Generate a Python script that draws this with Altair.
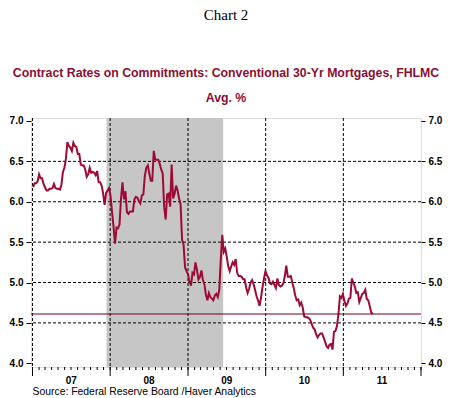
import altair as alt
import pandas as pd

# Weekly contract rates (% avg), first week 2007-01-04
rates_2007 = [6.18, 6.23, 6.23, 6.25, 6.34, 6.29, 6.29, 6.22, 6.18, 6.14, 6.14, 6.16, 6.16,
              6.17, 6.22, 6.17, 6.16, 6.16, 6.15, 6.21, 6.37, 6.42, 6.53, 6.74, 6.69, 6.67,
              6.63, 6.73, 6.69, 6.68, 6.59, 6.59, 6.46, 6.45, 6.45, 6.40, 6.31, 6.34, 6.42,
              6.36, 6.37, 6.36, 6.33, 6.38, 6.24, 6.24, 6.20, 6.10, 5.96, 6.11, 6.14, 6.17]
rates_2008 = [6.07, 5.87, 5.69, 5.48, 5.68, 5.67, 5.72, 6.04, 6.24, 6.03, 6.13, 5.87, 5.85,
              5.88, 5.88, 5.88, 6.03, 6.06, 6.05, 6.01, 5.98, 6.08, 6.09, 6.32, 6.42, 6.45,
              6.35, 6.26, 6.26, 6.63, 6.52, 6.52, 6.52, 6.47, 6.40, 6.35, 5.93, 5.78, 6.09,
              6.10, 5.94, 6.46, 6.04, 6.10, 6.20, 6.14, 6.04, 5.97, 5.53, 5.47, 5.19, 5.14, 5.10]
rates_2009 = [5.01, 4.96, 5.12, 5.10, 5.25, 5.16, 5.04, 5.07, 5.15, 5.03, 4.98, 4.85,
              4.78, 4.87, 4.82, 4.80, 4.78, 4.84, 4.86, 4.82, 4.91, 5.29, 5.59, 5.38, 5.42,
              5.32, 5.20, 5.14, 5.20, 5.25, 5.22, 5.29, 5.12, 5.08, 5.08, 5.07, 5.04, 5.04,
              4.94, 4.87, 4.92, 5.00, 5.03, 4.98, 4.91, 4.83, 4.78, 4.71, 4.81, 4.94, 5.05, 5.14]
rates_2010 = [5.09, 5.06, 4.99, 4.98, 5.01, 4.97, 4.93, 5.05, 4.97, 4.95, 4.96, 4.99,
              5.08, 5.21, 5.07, 5.07, 5.08, 5.00, 4.93, 4.84, 4.78, 4.79, 4.72, 4.75, 4.69,
              4.58, 4.57, 4.57, 4.56, 4.54, 4.49, 4.44, 4.42, 4.36, 4.32, 4.35, 4.37, 4.37,
              4.32, 4.27, 4.21, 4.19, 4.23, 4.24, 4.17, 4.39, 4.40, 4.46, 4.61, 4.83, 4.81, 4.86]
rates_2011 = [4.77, 4.71, 4.74, 4.80, 4.81, 5.05, 5.00, 4.95, 4.87, 4.88, 4.76, 4.81, 4.86,
              4.87, 4.91, 4.80, 4.78, 4.71, 4.63, 4.61]

rates = rates_2007 + rates_2008 + rates_2009 + rates_2010 + rates_2011
dates = pd.date_range("2007-01-04", periods=len(rates), freq="7D")

y_labels = [4.0, 4.5, 5.0, 5.5, 6.0, 6.5, 7.0]
grid_y = [4.5, 5.0, 5.5, 6.0, 6.5]
year_starts = ["2007-01-01", "2008-01-01", "2009-01-01", "2010-01-01", "2011-01-01", "2012-01-01"]
grid_x = year_starts[:-1]
year_mid = ["2007-07-02", "2008-07-02", "2009-07-02", "2010-07-02", "2011-07-02"]
year_text = ["07", "08", "09", "10", "11"]
recession_start = ["2007-12-15"]
recession_end = ["2009-06-15"]
months = [d.strftime("%Y-%m-%d") for d in pd.date_range("2007-01-01", "2012-01-01", freq="MS")]

W, H = 390, 249
RED = "#9E0A33"
TITLE_RED = "#8A0F33"
LABEL_FONT = "Liberation Sans"

df = pd.DataFrame({"date": dates, "rate": rates})
last = df.tail(1)

xs = alt.Scale(domain=[alt.DateTime(year=2006, month=12, date=25),
                       alt.DateTime(year=2012, month=1, date=1)], nice=False)
ys = alt.Scale(domain=[3.954, 7.037], nice=False, zero=False)

shade = alt.Chart(pd.DataFrame({"s": recession_start, "e": recession_end})).mark_rect(
    color="#C6C6C6").encode(
    x=alt.X("s:T", scale=xs), x2="e:T", y=alt.value(0), y2=alt.value(H))

hgrid = alt.Chart(pd.DataFrame({"v": grid_y})).mark_rule(
    color="black", strokeWidth=1, strokeDash=[3, 2]).encode(
    y=alt.Y("v:Q", scale=ys, axis=None))

vgrid = alt.Chart(pd.DataFrame({"d": grid_x})).mark_rule(
    color="black", strokeWidth=1, strokeDash=[3, 2]).encode(
    x=alt.X("d:T", scale=xs), y=alt.value(0), y2=alt.value(H))

line = alt.Chart(df).mark_line(color=RED, strokeWidth=2).encode(
    x=alt.X("date:T", scale=xs, axis=alt.Axis(
        labels=False, ticks=False, domain=False, grid=False,
        title="Source:  Federal Reserve Board /Haver Analytics",
        titleFont="Liberation Sans", titleFontSize=10.4, titleFontWeight="normal",
        titleColor="black", titleAnchor="start", titleAlign="left",
        titleX=1, titleY=27, titleBaseline="alphabetic")),
    y=alt.Y("rate:Q", scale=ys, axis=alt.Axis(
        orient="left", values=y_labels, format=".1f", title=None, grid=False,
        domain=False, tickSize=5, tickColor="black", labelPadding=3,
        labelFont=LABEL_FONT, labelFontWeight="bold", labelFontSize=10,
        labelColor="black")))

lastrule = alt.Chart(last).mark_rule(color="#6E0020", strokeWidth=1.2).encode(
    y=alt.Y("rate:Q", scale=ys, axis=alt.Axis(
        orient="right", values=y_labels, format=".1f", title=None, grid=False,
        domain=False, tickSize=4, tickColor="black", labelPadding=3,
        labelFont=LABEL_FONT, labelFontWeight="bold", labelFontSize=10,
        labelColor="black")))

mticks = alt.Chart(pd.DataFrame({"d": months})).mark_rule(color="black", strokeWidth=1).encode(
    x=alt.X("d:T", scale=xs), y=alt.value(H), y2=alt.value(H + 3))

yticks = alt.Chart(pd.DataFrame({"d": year_starts})).mark_rule(color="black", strokeWidth=1).encode(
    x=alt.X("d:T", scale=xs), y=alt.value(H), y2=alt.value(H + 9))

ylab = alt.Chart(pd.DataFrame({"d": year_mid, "t": year_text})).mark_text(
    font=LABEL_FONT, fontWeight="bold", fontSize=10, color="black", baseline="middle").encode(
    x=alt.X("d:T", scale=xs), y=alt.value(H + 14), text="t:N")

chart = alt.layer(shade, hgrid, vgrid, line, lastrule, mticks, yticks, ylab).resolve_axis(
    y="independent").properties(
    width=W, height=H,
    autosize=alt.AutoSizeParams(type="none"),
    padding={"left": 23, "top": 110, "right": 30, "bottom": 30},
    title=alt.TitleParams(
        text="Chart 2",
        subtitle=["Contract Rates on Commitments: Conventional 30-Yr Mortgages, FHLMC", "Avg. %"],
        font="Liberation Serif", fontSize=15, fontWeight="normal", color="black",
        subtitleFont="Liberation Sans", subtitleFontWeight="bold", subtitleFontSize=12.3,
        subtitleColor=TITLE_RED, subtitlePadding=44, subtitleLineHeight=25,
        anchor="middle", offset=12),
).configure_view(stroke="black", strokeWidth=1).configure(background="white")

chart.save("out.html", embed_options={"renderer": "svg", "actions": False})
